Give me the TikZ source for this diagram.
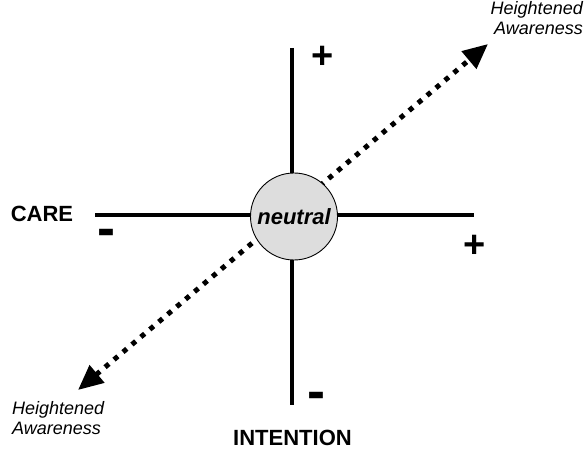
\documentclass[tikz,border=0pt]{standalone}
\usepackage{fontspec}
\setmainfont{Liberation Sans}
\usetikzlibrary{arrows.meta}
\begin{document}
\begin{tikzpicture}[x=1pt, y=-1pt,
  ax/.style={line width=4.8pt},
  aware/.style={line width=5pt, dash pattern=on 5pt off 6.7pt,
    {Triangle[length=25pt,width=22pt]}-{Triangle[length=25pt,width=22pt]}},
  lab/.style={font=\fontsize{22}{26}\selectfont\bfseries, inner sep=0pt},
  hl/.style={font=\fontsize{18}{20}\selectfont\itshape, inner sep=0pt},
  plus/.style={font=\fontsize{38}{40}\selectfont\bfseries, inner sep=0pt},
  minus/.style={font=\fontsize{54}{56}\selectfont\bfseries, inner sep=0pt}]
  \useasboundingbox (0,0) rectangle (584,449);
  \coordinate (ctop) at (292,48);
  \coordinate (cbot) at (292,405);
  \coordinate (cleft) at (95,215);
  \coordinate (cright) at (474,215);
  \coordinate (awlow) at (78,390);
  \coordinate (awhigh) at (488,44);
  \draw[ax] (ctop) -- (cbot);
  \draw[ax] (cleft) -- (cright);
  \draw[aware] (awlow) -- (awhigh);
  \node[circle, draw, line width=0.9pt, fill=gray!27, minimum size=87pt, inner sep=0pt,
    font=\fontsize{22}{26}\selectfont\bfseries\itshape] (neutral) at (294,216.5) {neutral};
  \node[lab] (care) at (42,213.5) {CARE};
  \node[lab] (intention) at (292.5,437.5) {INTENTION};
  \node[hl, align=right, anchor=north east] (hightop) at (583,1) {Heightened\\Awareness};
  \node[hl, align=left, anchor=north west] (highbot) at (12,401) {Heightened\\Awareness};
  \node[plus] (vplus) at (322.5,57.5) {+};
  \node[plus] (hplus) at (474.5,246) {+};
  \node[minus] (hminus) at (106,238) {-};
  \node[minus] (vminus) at (316,401) {-};
\end{tikzpicture}
\end{document}
